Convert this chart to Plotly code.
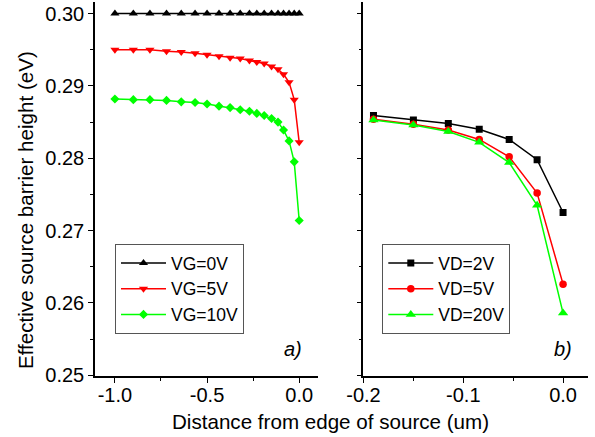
import plotly.graph_objects as go

# ---- data ----
x_left = [-1.0, -0.9, -0.81, -0.72, -0.64, -0.565, -0.5, -0.435, -0.375, -0.32,
          -0.27, -0.23, -0.19, -0.15, -0.115, -0.085, -0.055, -0.027, 0.0]
vg0 = [0.300] * 19
vg5 = [0.2950, 0.2950, 0.2950, 0.2948, 0.2947, 0.2945, 0.2943, 0.2941, 0.2939, 0.2938,
       0.2935, 0.2933, 0.2931, 0.2927, 0.2923, 0.2916, 0.2905, 0.2881, 0.2822]
vg10 = [0.2882, 0.2881, 0.2881, 0.2880, 0.2878, 0.2877, 0.2875, 0.2872, 0.2870, 0.2867,
        0.2865, 0.2862, 0.2859, 0.2855, 0.2850, 0.2839, 0.2824, 0.2795, 0.2714]

x_right = [-0.19, -0.15, -0.115, -0.084, -0.054, -0.026, 0.0]
vd2 = [0.2859, 0.2853, 0.2848, 0.2840, 0.2826, 0.2798, 0.2725]
vd5 = [0.2854, 0.2847, 0.2839, 0.2826, 0.2802, 0.2752, 0.2626]
vd20 = [0.2853, 0.2846, 0.2837, 0.2822, 0.2794, 0.2735, 0.2586]

FONT = "Liberation Sans, Arial, sans-serif"
BLACK, RED, GREEN = "#000000", "#FF0000", "#00FF00"

fig = go.Figure()

def add(x, y, name, color, symbol, size, xa, ya, leg):
    fig.add_trace(go.Scatter(
        x=x, y=y, name=name, mode="lines+markers",
        line=dict(color=color, width=1.5),
        marker=dict(color=color, symbol=symbol, size=size, line=dict(width=0)),
        xaxis=xa, yaxis=ya, legend=leg))

add(x_left, vg0, "VG=0V", BLACK, "triangle-up", 8, "x", "y", "legend")
add(x_left, vg5, "VG=5V", RED, "triangle-down", 8, "x", "y", "legend")
add(x_left, vg10, "VG=10V", GREEN, "diamond", 7, "x", "y", "legend")

add(x_right, vd2, "VD=2V", BLACK, "square", 7, "x2", "y2", "legend2")
add(x_right, vd5, "VD=5V", RED, "circle", 7.5, "x2", "y2", "legend2")
add(x_right, vd20, "VD=20V", GREEN, "triangle-up", 9, "x2", "y2", "legend2")

W, H = 595, 437
L, R, T, B = 95, 7, 2, 61
pw, ph = W - L - R, H - T - B

def px_x(p):
    return (p - L) / pw

def px_y(p):
    return (H - B - p) / ph

axis_common = dict(showline=True, linecolor="black", linewidth=1.5, ticks="outside",
                   ticklen=5, tickwidth=1.2, tickcolor="black", showgrid=False,
                   zeroline=False, tickfont=dict(family=FONT, size=20, color="black"))

yrange = [0.2499, 0.3016]

fig.update_layout(
    width=W, height=H, margin=dict(l=L, r=R, t=T, b=B),
    paper_bgcolor="white", plot_bgcolor="white",
    font=dict(family=FONT, color="black"),
    xaxis=dict(domain=[0, px_x(318)], range=[-1.108, 0.102],
               tickvals=[-1.0, -0.5, 0.0], ticktext=["-1.0", "-0.5", "0.0"],
               minor=dict(ticks="outside", ticklen=3, tickvals=[-0.75, -0.25], tickcolor="black"),
               ticklabelstandoff=-5,
               anchor="y", **axis_common),
    yaxis=dict(domain=[0, 1], range=yrange,
               tickvals=[0.25, 0.26, 0.27, 0.28, 0.29, 0.30],
               ticktext=["0.25", "0.26", "0.27", "0.28", "0.29", "0.30"],
               minor=dict(ticks="outside", ticklen=3,
                          tickvals=[0.255, 0.265, 0.275, 0.285, 0.295], tickcolor="black"),
               anchor="x", **axis_common),
    xaxis2=dict(domain=[px_x(363.3), 1], range=[-0.2002, 0.025],
                tickvals=[-0.2, -0.1, 0.0], ticktext=["-0.2", "-0.1", "0.0"],
                minor=dict(ticks="outside", ticklen=3, tickvals=[-0.15, -0.05], tickcolor="black"),
                ticklabelstandoff=-5,
                anchor="y2", **axis_common),
    yaxis2=dict(domain=[0, 1], range=yrange, showticklabels=False,
                tickvals=[0.25, 0.26, 0.27, 0.28, 0.29, 0.30],
                minor=dict(ticks="outside", ticklen=3,
                           tickvals=[0.255, 0.265, 0.275, 0.285, 0.295], tickcolor="black"),
                anchor="x2", **axis_common),
    legend=dict(x=px_x(115), y=px_y(244), xanchor="left", yanchor="top",
                bordercolor="#555555", borderwidth=1, bgcolor="white", itemwidth=45,
                font=dict(family=FONT, size=17.5, color="black"), tracegroupgap=0),
    legend2=dict(x=px_x(382.3), y=px_y(244), xanchor="left", yanchor="top",
                 bordercolor="#555555", borderwidth=1, bgcolor="white", itemwidth=45,
                 font=dict(family=FONT, size=17.5, color="black"), tracegroupgap=0),
    showlegend=True,
)

ann_font = dict(family=FONT, size=20.6, color="black")
fig.add_annotation(text="Distance from edge of source (um)", xref="paper", yref="paper",
                   x=px_x(330), y=px_y(421), xanchor="center", yanchor="middle",
                   showarrow=False, font=ann_font)
fig.add_annotation(text="Effective source barrier height (eV)", xref="paper", yref="paper",
                   x=px_x(25), y=px_y(210), xanchor="center", yanchor="middle",
                   textangle=-90, showarrow=False, font=ann_font)
fig.add_annotation(text="<i>a)</i>", xref="paper", yref="paper",
                   x=px_x(293), y=px_y(349), xanchor="center", yanchor="middle",
                   showarrow=False, font=dict(family=FONT, size=20, color="black"))
fig.add_annotation(text="<i>b)</i>", xref="paper", yref="paper",
                   x=px_x(562.5), y=px_y(349), xanchor="center", yanchor="middle",
                   showarrow=False, font=dict(family=FONT, size=20, color="black"))

fig.write_html("out.html")
